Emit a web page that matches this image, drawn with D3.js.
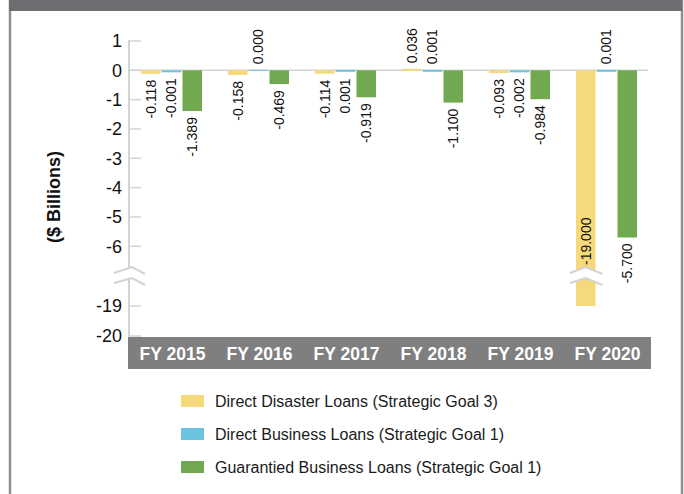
<!DOCTYPE html>
<html>
<meta charset="utf-8">
<style>
  body { margin: 0; overflow: hidden; background: #fff; }
  text { font-family: "Liberation Sans", Arial, sans-serif; }
</style>
<script src="https://cdn.jsdelivr.net/npm/d3@7"></script>
<body>
<svg width="684" height="494"></svg>
<script>
// values in $ billions
var years = ["FY 2015", "FY 2016", "FY 2017", "FY 2018", "FY 2019", "FY 2020"];
var seriesNames = ["Direct Disaster Loans (Strategic Goal 3)",
                   "Direct Business Loans (Strategic Goal 1)",
                   "Guarantied Business Loans (Strategic Goal 1)"];
var seriesColors = ["#f6d97b", "#6cc3df", "#70a94f"];
var disaster   = [-0.118, -0.158, -0.114, 0.036, -0.093, -19.000];
var business   = [-0.001,  0.000,  0.001, 0.001, -0.002,   0.001];
var guarantied = [-1.389, -0.469, -0.919, -1.100, -0.984, -5.700];
var upperTicks = [1, 0, -1, -2, -3, -4, -5, -6];
var lowerTicks = [-19, -20];
// the 2017 business label sits under the zero line in the original
var labelsBelow = ["FY 2017|1"];

var allSeries = [disaster, business, guarantied];
var fmt = function(v) { return d3.format(".3f")(v).replace(/\u2212/g, "-"); };

var svg = d3.select("svg");

// frame
svg.append("rect")
    .attr("x", 10).attr("y", 0)
    .attr("width", 672).attr("height", 500)
    .style("fill", "none")
    .style("stroke", "#8e8e8e")
    .style("stroke-width", 2.5);
svg.append("rect")
    .attr("x", 9).attr("y", 0)
    .attr("width", 673).attr("height", 11)
    .style("fill", "#6d6e71");

var axisX = 129;

var x0 = d3.scaleBand().domain(years).range([128, 650]);
var x1 = d3.scaleBand().domain([0, 1, 2]).range([0, 61]).paddingInner(0.06);

var yTop = d3.scaleLinear().domain([1, -6]).range([41, 246.3]);
var yBot = d3.scaleLinear().domain([-19, -20]).range([306, 336]);
var breakValue = -10;
var breakTop = 267, breakBottom = 286;

function y(v) { return v >= breakValue ? yTop(v) : yBot(v); }

// x axis band
svg.append("rect")
    .attr("x", 128).attr("y", 337)
    .attr("width", 523).attr("height", 32)
    .style("fill", "#7f7f7f");

svg.selectAll(".xlabel")
    .data(years)
  .enter().append("text")
    .attr("class", "xlabel")
    .attr("x", function(d) { return x0(d) + x0.bandwidth() / 2 + 1; })
    .attr("y", 360)
    .attr("text-anchor", "middle")
    .style("font-size", "17.5px")
    .style("font-weight", "bold")
    .style("fill", "#fff")
    .text(function(d) { return d; });

// y axis
var axisG = svg.append("g").attr("transform", "translate(" + axisX + ",0)");
axisG.append("line")
    .attr("y1", yTop(1) - 1).attr("y2", 337)
    .style("stroke", "#d3d3d3").style("stroke-width", 2);

var ticks = upperTicks.map(function(v) { return {v: v, y: yTop(v)}; })
    .concat(lowerTicks.map(function(v) { return {v: v, y: yBot(v)}; }));

axisG.selectAll(".tick")
    .data(ticks)
  .enter().append("line")
    .attr("x1", 0).attr("x2", 12)
    .attr("y1", function(d) { return d.y; })
    .attr("y2", function(d) { return d.y; })
    .style("stroke", "#d3d3d3").style("stroke-width", 1.5);

svg.selectAll(".ylabel")
    .data(ticks)
  .enter().append("text")
    .attr("x", 122)
    .attr("y", function(d) { return d.y; })
    .attr("dy", "0.36em")
    .attr("text-anchor", "end")
    .style("font-size", "18px")
    .style("fill", "#111")
    .text(function(d) { return String(d.v); });

svg.append("text")
    .attr("transform", "translate(60," + 197 + ") rotate(-90)")
    .attr("text-anchor", "middle")
    .style("font-size", "18px")
    .style("font-weight", "bold")
    .style("fill", "#111")
    .text("($ Billions)");

// zero line
svg.append("line")
    .attr("x1", 128).attr("x2", 648)
    .attr("y1", y(0)).attr("y2", y(0))
    .style("stroke", "#d3d3d3").style("stroke-width", 1.5);

// bars
var cells = [];
years.forEach(function(yr, i) {
  allSeries.forEach(function(s, k) {
    cells.push({year: yr, k: k, v: s[i]});
  });
});

function barX(d) {
  return x0(d.year) + (x0.bandwidth() - 61) / 2 + x1(d.k);
}

svg.selectAll(".bar")
    .data(cells)
  .enter().append("rect")
    .attr("class", "bar")
    .attr("x", barX)
    .attr("width", x1.bandwidth())
    .attr("y", function(d) { return Math.min(y(0), y(d.v)) - (d.v >= 0 ? 0.5 : 0); })
    .attr("height", function(d) { return Math.max(Math.abs(y(d.v) - y(0)), d.v === 0 ? 1 : 2); })
    .style("fill", function(d) { return seriesColors[d.k]; });

function isBelow(d) {
  return d.v < 0 || labelsBelow.indexOf(d.year + "|" + d.k) >= 0;
}

// value labels
svg.selectAll(".val")
    .data(cells)
  .enter().append("text")
    .attr("transform", function(d) {
      var cx = barX(d) + x1.bandwidth() / 2;
      var ty;
      if (d.v < breakValue) ty = breakTop - 2;
      else if (isBelow(d)) ty = Math.max(y(d.v), y(0) + 2) + 6;
      else ty = y(d.v) - 6;
      return "translate(" + cx + "," + ty + ") rotate(-90)";
    })
    .attr("dy", "0.35em")
    .attr("text-anchor", function(d) {
      if (d.v < breakValue) return "start";
      return isBelow(d) ? "end" : "start";
    })
    .style("font-size", "14px")
    .style("fill", "#111")
    .text(function(d) { return fmt(d.v); });

// axis break marks
function drawBreak(cx, left, right) {
  var up = [[left, breakTop + 6], [cx, breakTop], [right, breakTop + 7]];
  var lo = [[right, breakBottom - 1], [cx, breakBottom - 8], [left, breakBottom - 3]];
  svg.append("path")
      .attr("d", d3.line()(up.concat(lo)) + "Z")
      .style("fill", "#fff");
  svg.append("path")
      .attr("d", d3.line()(up))
      .style("fill", "none").style("stroke", "#d3d3d3").style("stroke-width", 2);
  svg.append("path")
      .attr("d", d3.line()(lo))
      .style("fill", "none").style("stroke", "#d3d3d3").style("stroke-width", 2);
}
drawBreak(axisX + 3, axisX - 15, axisX + 16);
cells.filter(function(d) { return d.v < breakValue; }).forEach(function(d) {
  var bx = barX(d);
  drawBreak(bx + x1.bandwidth() / 2, bx - 6, bx + x1.bandwidth() + 7);
});

// legend
var legend = svg.selectAll(".legend")
    .data(seriesNames)
  .enter().append("g")
    .attr("transform", function(d, i) { return "translate(181," + (395 + i * 33) + ")"; });

legend.append("rect")
    .attr("width", 23).attr("height", 12)
    .style("fill", function(d, i) { return seriesColors[i]; });

legend.append("text")
    .attr("x", 34).attr("y", 6)
    .attr("dy", "0.36em")
    .style("font-size", "16px")
    .style("fill", "#1a1a1a")
    .text(function(d) { return d; });
</script>
</body>
</html>
